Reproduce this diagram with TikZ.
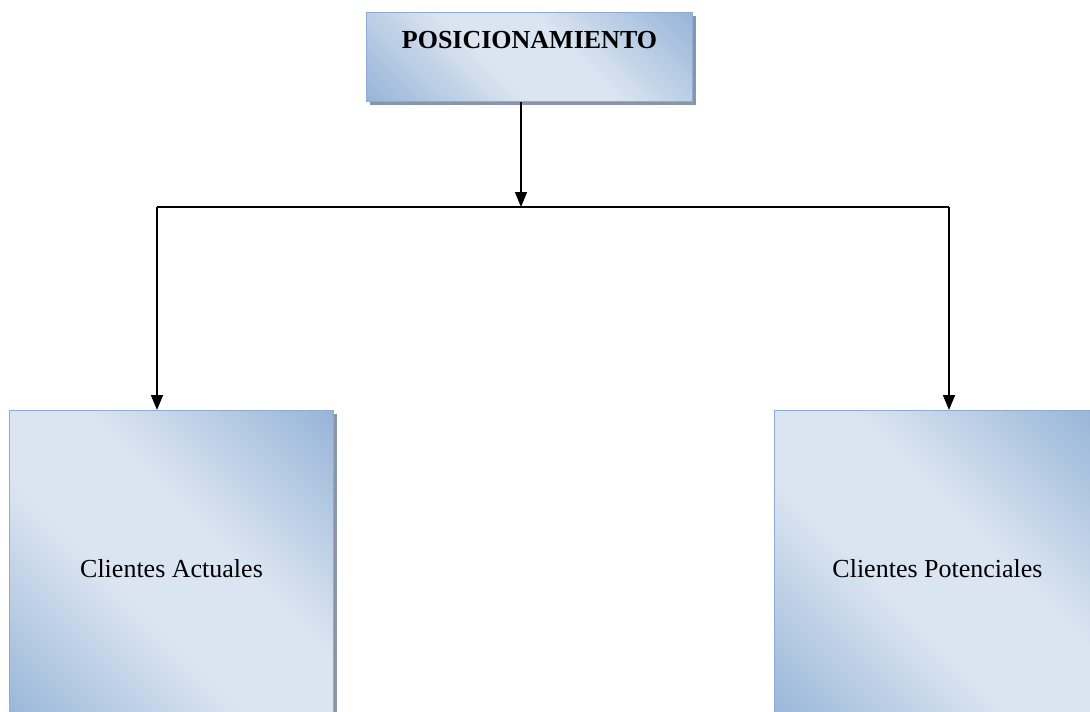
\documentclass[tikz,border=0pt]{standalone}
\usepackage{fontspec}
\setmainfont{Liberation Serif}
\usetikzlibrary{arrows.meta,shadows}
\definecolor{dk}{HTML}{95B3D7}
\definecolor{lt}{HTML}{DBE5F1}
\definecolor{bd}{HTML}{8EABD3}
\definecolor{sh}{HTML}{8A96A8}
\pgfdeclareverticalshading{boxshade}{100bp}{color(0bp)=(dk); color(14bp)=(dk); color(42bp)=(lt); color(58bp)=(lt); color(86bp)=(dk); color(100bp)=(dk)}
\tikzset{
  gbox/.style={draw=bd, line width=1pt, shading=boxshade, shading angle=-45,
    inner sep=0pt, anchor=north west,
    font=\fontsize{26}{30}\selectfont,
    drop shadow={shadow xshift=3pt, shadow yshift=-3pt, fill=sh, opacity=1}},
  conn/.style={line width=1.6pt, black},
  arr/.style={conn, -{Triangle[width=12pt,length=15pt]}}
}
\begin{document}
\begin{tikzpicture}[x=1pt,y=-1pt]
\useasboundingbox (0,0) rectangle (1090,712);
\clip (0,0) rectangle (1090,712);
\node[gbox, minimum width=326pt, text height=36pt, text depth=53pt, text width=326pt, align=center] (pos) at (366,12) {\bfseries POSICIONAMIENTO};
\node[gbox, minimum width=324pt, minimum height=316pt] (ca) at (9,410) {Clientes Actuales};
\node[gbox, minimum width=326pt, minimum height=316pt] (cp) at (774,410) {Clientes Potenciales};
\coordinate (j) at (521,207);
\coordinate (la) at (157,207);
\coordinate (ra) at (949,207);
\draw[conn] (la) -- (ra);
\draw[arr] (pos.south -| j) -- (j);
\draw[arr] (la) -- (ca.north -| la);
\draw[arr] (ra) -- (cp.north -| ra);
\end{tikzpicture}
\end{document}
